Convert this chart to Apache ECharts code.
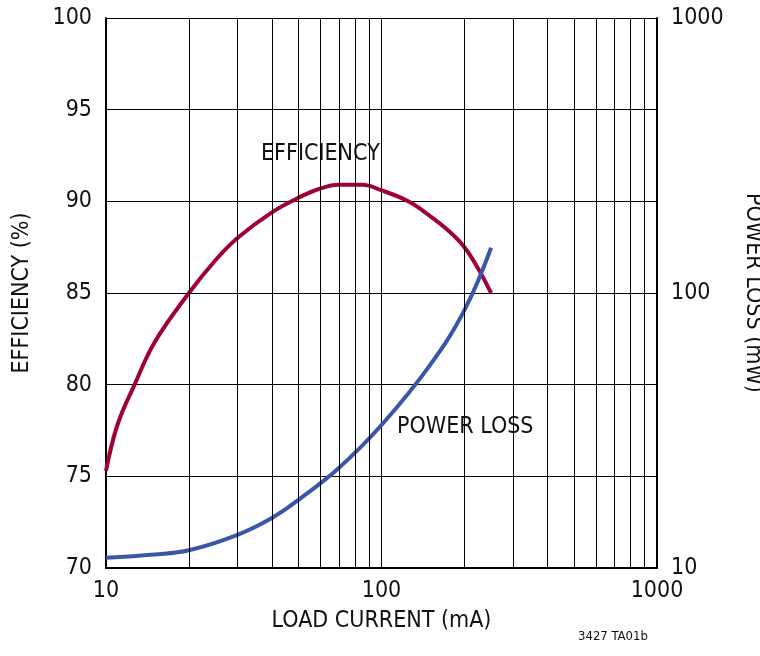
<!DOCTYPE html>
<html><head><meta charset="utf-8">
<script src="https://cdn.jsdelivr.net/npm/echarts@6/dist/echarts.min.js"></script>
<style>body{margin:0;background:#fff}#c{width:760px;height:656px}</style>
</head><body><div id="c"></div>
<script>
// load current (mA) vs efficiency (%)
var effCurrent = [10, 11, 12.7, 15, 20, 25, 30, 40, 50, 60, 70, 85, 100, 125, 150, 175, 200, 225, 250];
var effValues = [75.3, 77.8, 80, 82.3, 85, 86.8, 88, 89.4, 90.2, 90.7, 90.9, 90.9, 90.6, 90, 89.2, 88.4, 87.5, 86.3, 85];
// load current (mA) vs power loss (mW)
var lossCurrent = [10, 15, 20, 30, 40, 50, 70, 100, 150, 200, 250];
var lossValues = [10.9, 11.2, 11.6, 13.2, 15.2, 17.7, 23.1, 33.1, 54.7, 86.6, 146];
var minorX = [20, 30, 40, 50, 60, 70, 80, 90, 200, 300, 400, 500, 600, 700, 800, 900];

var font = '"DejaVu Sans Condensed", "Liberation Sans Narrow", sans-serif';
var fmt = function (v) { return String(v); };
var chart = echarts.init(document.getElementById('c'));
chart.setOption({
  animation: false,
  textStyle: { fontFamily: font },
  grid: { left: 106, right: 103, top: 18, bottom: 88, outerBoundsMode: 'none', containLabel: false },
  xAxis: {
    type: 'log', min: 10, max: 1000, logBase: 10,
    name: 'LOAD CURRENT (mA)', nameLocation: 'middle', nameGap: 42,
    nameTextStyle: { fontSize: 23, color: '#111', fontFamily: font },
    axisLine: { lineStyle: { color: '#000', width: 2 } },
    axisTick: { show: false },
    axisLabel: { fontSize: 23, color: '#111', margin: 12, fontFamily: font, formatter: fmt },
    splitLine: { lineStyle: { color: '#000', width: 1 } }
  },
  yAxis: [{
    type: 'value', min: 70, max: 100, interval: 5,
    name: 'EFFICIENCY (%)', nameLocation: 'middle', nameGap: 72,
    nameTextStyle: { fontSize: 23, color: '#111', fontFamily: font },
    axisLine: { show: true, lineStyle: { color: '#000', width: 2 } },
    axisTick: { show: false },
    axisLabel: { fontSize: 23, color: '#111', margin: 14, fontFamily: font },
    splitLine: { lineStyle: { color: '#000', width: 1 } }
  }, {
    type: 'log', min: 10, max: 1000, logBase: 10,
    name: 'POWER LOSS (mW)', nameLocation: 'middle', nameGap: 84, nameRotate: -90,
    nameTextStyle: { fontSize: 23, color: '#111', fontFamily: font },
    axisLine: { show: true, lineStyle: { color: '#000', width: 2 } },
    axisTick: { show: false },
    axisLabel: { fontSize: 23, color: '#111', margin: 14, fontFamily: font, formatter: fmt },
    splitLine: { show: false }
  }],
  series: [{
    type: 'line', yAxisIndex: 0, data: [],
    markLine: {
      silent: true, symbol: 'none', label: { show: false },
      lineStyle: { color: '#000', width: 1, type: 'solid' },
      data: minorX.map(function (v) { return { xAxis: v }; })
    }
  }, {
    name: 'EFFICIENCY', type: 'line', yAxisIndex: 0, smooth: 0.4, showSymbol: false,
    lineStyle: { color: '#a0003c', width: 4 }, itemStyle: { color: '#a0003c' },
    data: effCurrent.map(function (x, i) { return [x, effValues[i]]; })
  }, {
    name: 'POWER LOSS', type: 'line', yAxisIndex: 1, smooth: 0.4, showSymbol: false,
    lineStyle: { color: '#3a56a8', width: 4 }, itemStyle: { color: '#3a56a8' },
    data: lossCurrent.map(function (x, i) { return [x, lossValues[i]]; })
  }],
  graphic: [
    { type: 'rect', left: 257, top: 142, shape: { width: 146, height: 30 }, style: { fill: '#fff' } },
    { type: 'text', left: 261, top: 143, style: { text: 'EFFICIENCY', font: '23px ' + font, fill: '#111' } },
    { type: 'rect', left: 393, top: 415, shape: { width: 166, height: 30 }, style: { fill: '#fff' } },
    { type: 'text', left: 397, top: 416, style: { text: 'POWER LOSS', font: '23px ' + font, fill: '#111' } },
    { type: 'text', left: 578, top: 630, style: { text: '3427 TA01b', font: '13px ' + font, fill: '#111' } }
  ]
});
</script></body></html>
